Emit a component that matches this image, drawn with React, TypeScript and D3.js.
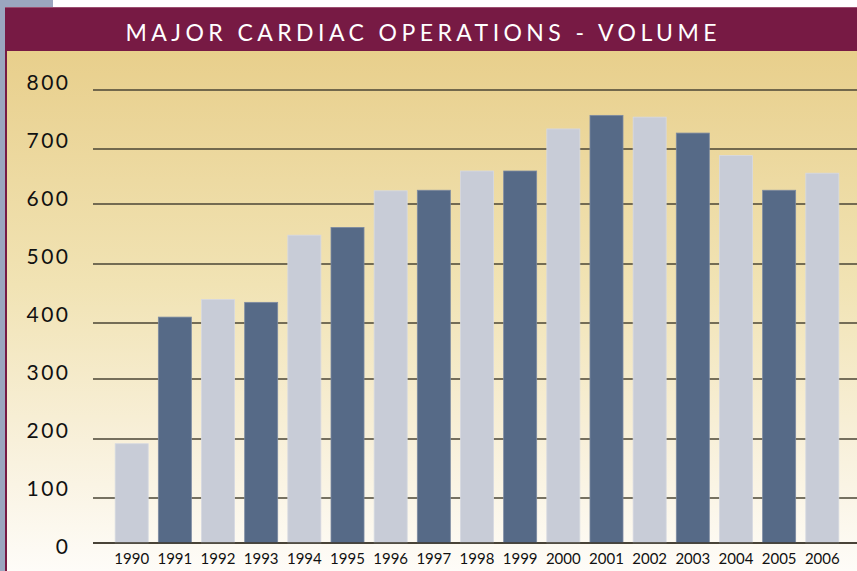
import React from "react";
import * as d3 from "d3";

// chart data
const years = ["1990", "1991", "1992", "1993", "1994", "1995", "1996", "1997", "1998",
  "1999", "2000", "2001", "2002", "2003", "2004", "2005", "2006"];
const volumes = [192, 410, 440, 435, 548, 561, 624, 625, 660, 660, 734, 757, 754, 727, 688, 625, 656];
const yTicks = [0, 100, 200, 300, 400, 500, 600, 700, 800];
const title = "MAJOR CARDIAC OPERATIONS - VOLUME";

// layout
const width = 857;
const height = 571;
const gridLeft = 93;
// gridlines in the original are not evenly spaced, so use a piecewise scale
const gridY = [543, 498, 439, 379, 323, 264, 204, 149, 90];

const App = () => {
  const x = d3.scaleBand<string>()
    .domain(years)
    .range([110, 844])
    .paddingInner(0.235)
    .paddingOuter(0.12);
  const y = d3.scaleLinear().domain(yTicks).range(gridY);
  const labelY = d3.scaleLinear().domain([0, 800]).range([553.5, 89.5]);

  return (
    <svg width={width} height={height} style={{ position: "absolute", left: 0, top: 0 }}>
      <defs>
        <linearGradient id="panel" x1="0" y1="0" x2="0" y2="1">
          <stop offset="0" stopColor="#e8cf8c" />
          <stop offset="0.45" stopColor="#f1e3b4" />
          <stop offset="0.75" stopColor="#f8f0da" />
          <stop offset="1" stopColor="#fefcf8" />
        </linearGradient>
      </defs>
      <rect x={0} y={0} width={width} height={height} fill="#ffffff" />
      <rect x={0} y={0} width={53} height={7} fill="#9ba6bf" />
      <rect x={0} y={0} width={6} height={height} fill="#9ba6bf" />
      <rect x={5} y={7} width={width - 5} height={height - 7} fill="#771a44" />
      <rect x={5} y={7} width={width - 5} height={1} fill="#9b4f70" />
      <rect x={7} y={51} width={width - 7} height={height - 51} fill="url(#panel)" />
      <text
        x={421}
        y={41}
        textAnchor="middle"
        fill="#ffffff"
        fontFamily="Lato, 'Noto Sans', sans-serif"
        fontSize={23}
        textLength={591}
        lengthAdjust="spacing"
      >
        {title}
      </text>

      {yTicks.map(t => (
        <line key={"g" + t} x1={gridLeft} x2={width} y1={y(t)} y2={y(t)}
          stroke="#4a4535" strokeWidth={1.7} />
      ))}
      {yTicks.map(t => (
        <text key={"l" + t} x={68} y={labelY(t)} textAnchor="end"
          fontFamily="Lato, 'Noto Sans', sans-serif" fontSize={21}
          letterSpacing={2.5} dx={2.5} fill="#111111">
          {t}
        </text>
      ))}

      {years.map((yr, i) => (
        <rect
          key={yr}
          x={x(yr)}
          y={y(volumes[i])}
          width={x.bandwidth()}
          height={y(0) - y(volumes[i])}
          fill={i % 2 === 0 ? "#c8ccd7" : "#566a87"}
          stroke={i % 2 === 0 ? "#d6d9e1" : "#7d8ba2"}
          strokeWidth={0.8}
        />
      ))}
      <line x1={gridLeft} x2={width} y1={y(0)} y2={y(0)} stroke="#3a3528" strokeWidth={1.7} />

      {years.map(yr => (
        <text key={"x" + yr} x={(x(yr) ?? 0) + x.bandwidth() / 2} y={564}
          textAnchor="middle" fontFamily="Lato, 'Noto Sans', sans-serif"
          fontSize={15} fill="#111111">
          {yr}
        </text>
      ))}
    </svg>
  );
};

export default App;
